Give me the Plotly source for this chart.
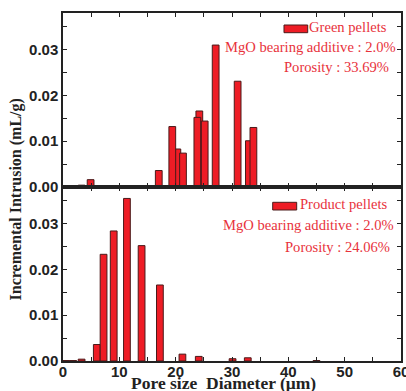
import plotly.graph_objects as go

# ---- data ----
green_x = [0.6, 1.8, 3.3, 4.9, 17.0, 20.3, 19.4, 21.3, 24.2, 23.85, 25.15, 27.1, 31.0, 33.0, 33.8]
green_y = [0.0001, 0.0001, 0.0004, 0.0016, 0.0036, 0.0083, 0.0132, 0.0074, 0.0166, 0.0152, 0.0144, 0.0310, 0.0231, 0.0101, 0.0130]

product_x = [0.6, 1.8, 3.3, 6.0, 7.2, 9.0, 11.35, 13.95, 17.2, 21.2, 24.1, 30.1, 32.8, 45.0]
product_y = [0.0001, 0.0001, 0.0004, 0.0036, 0.0233, 0.0284, 0.0355, 0.0252, 0.0166, 0.0015, 0.0010, 0.0005, 0.0007, 0.0001]

bar_width = 1.2

x_tickvals = [0, 5, 10, 15, 20, 25, 30, 35, 40, 45, 50, 55, 60]
x_ticktext = ["0", "", "10", "", "20", "", "30", "", "40", "", "50", "", "60"]
y_tickvals = [0, 0.005, 0.01, 0.015, 0.02, 0.025, 0.03, 0.035]
y_ticktext = ["0.00", "", "0.01", "", "0.02", "", "0.03", ""]

green_labels = ["Green pellets", "MgO bearing additive : 2.0%", "Porosity : 33.69%"]
product_labels = ["Product pellets", "MgO bearing additive : 2.0%", "Porosity : 24.06%"]

y_title = "Incremental Intrusion (mL/g)"
x_title = "Pore size  Diameter (μm)"

BAR_FILL = "#ee1c25"
BAR_LINE = "#4a1a1a"
TXT_RED = "#e8323c"
AX = "#222222"

fig = go.Figure()
fig.add_trace(go.Bar(x=green_x, y=green_y, width=[bar_width] * len(green_x),
                     marker=dict(color=BAR_FILL, line=dict(color=BAR_LINE, width=1)),
                     xaxis="x", yaxis="y", showlegend=False))
fig.add_trace(go.Bar(x=product_x, y=product_y, width=[bar_width] * len(product_x),
                     marker=dict(color=BAR_FILL, line=dict(color=BAR_LINE, width=1)),
                     xaxis="x2", yaxis="y2", showlegend=False))

tickfont = dict(family="Liberation Sans, Arial", size=15, color="#222222", weight="bold")

common_x = dict(range=[0, 60], tickvals=x_tickvals, ticktext=x_ticktext, ticks="inside",
                ticklen=4, tickwidth=1.2, tickcolor=AX, showline=True, linecolor=AX,
                linewidth=1.5, mirror="allticks", showgrid=False, zeroline=False,
                tickfont=tickfont, ticklabeloverflow="allow", automargin=False)
common_y = dict(range=[0, 0.038], tickvals=y_tickvals, ticktext=y_ticktext, ticks="inside",
                ticklen=4, tickwidth=1.2, tickcolor=AX, showline=True, linecolor=AX,
                linewidth=1.5, mirror="allticks", showgrid=False, zeroline=False,
                tickfont=tickfont, automargin=False)

fig.update_layout(
    width=406, height=391,
    margin=dict(l=63, r=5, t=13, b=30, autoexpand=False),
    paper_bgcolor="white", plot_bgcolor="white",
    barmode="overlay",
    xaxis=dict(domain=[0, 1], anchor="y", showticklabels=False, **common_x),
    yaxis=dict(domain=[0.5, 1], anchor="x", **common_y),
    xaxis2=dict(domain=[0, 1], anchor="y2", showticklabels=True, ticklabelstandoff=-4, **common_x),
    yaxis2=dict(domain=[0, 0.5], anchor="x2", **common_y),
)

serif = "Liberation Serif, Times New Roman"
annots = []
# panel texts
for labels, ys, xs in [(green_labels, [0.9589, 0.9032, 0.8457], [0.9654, 0.992, 0.9704]),
                       (product_labels, [0.4511, 0.3908, 0.3284], [0.9654, 0.9852, 0.9743])]:
    for t, yv, xv in zip(labels, ys, xs):
        annots.append(dict(text=t, x=xv, y=yv, xref="paper", yref="paper",
                           xanchor="right", yanchor="middle", showarrow=False,
                           font=dict(family=serif, size=14.6, color=TXT_RED)))
annots.append(dict(text=y_title, x=-0.1376, y=0.4655, xref="paper", yref="paper",
                   textangle=-90, xanchor="center", yanchor="middle", showarrow=False,
                   font=dict(family=serif, size=16, color="#222222", weight="bold")))
annots.append(dict(text=x_title, x=0.476, y=-0.064, xref="paper", yref="paper",
                   xanchor="center", yanchor="middle", showarrow=False,
                   font=dict(family=serif, size=17.5, color="#222222", weight="bold")))
fig.update_layout(annotations=annots)

# legend glyphs
shapes = []
for (x0, x1, y0, y1) in [(0.6538, 0.7240, 0.9434, 0.9655), (0.6204, 0.6914, 0.4339, 0.456)]:
    shapes.append(dict(type="rect", xref="paper", yref="paper", x0=x0, x1=x1, y0=y0, y1=y1,
                       fillcolor=BAR_FILL, line=dict(color=BAR_LINE, width=1)))
fig.update_layout(shapes=shapes)

fig.write_html("out.html", config={"displayModeBar": False},
               post_script="document.body.style.margin='0';document.body.style.overflow='hidden';")
